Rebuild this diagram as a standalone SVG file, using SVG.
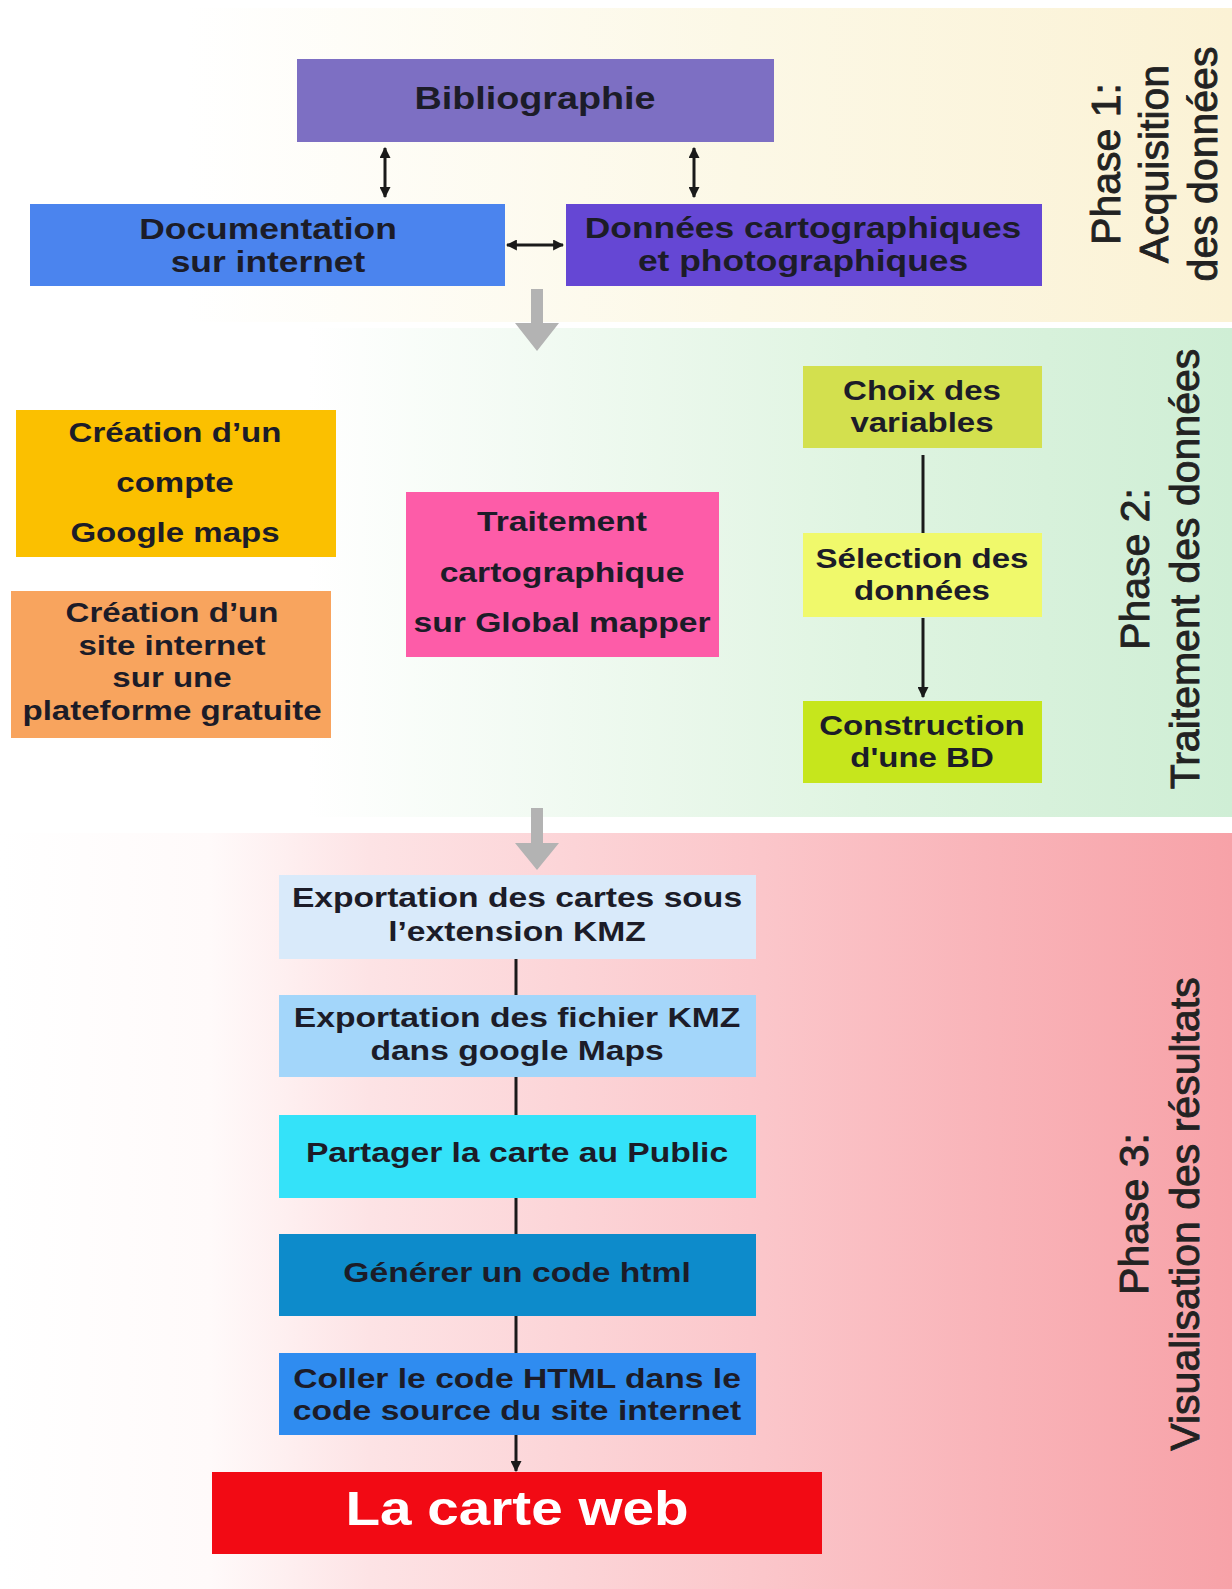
<svg xmlns="http://www.w3.org/2000/svg" width="1232" height="1589" viewBox="0 0 1232 1589">
<defs>
<linearGradient id="g1" x1="0" y1="0" x2="1" y2="0">
<stop offset="0" stop-color="#ffffff"/><stop offset="0.15" stop-color="#ffffff"/><stop offset="0.6" stop-color="#fcf8e6"/><stop offset="1" stop-color="#fbf2d5"/>
</linearGradient>
<linearGradient id="g2" x1="0" y1="0" x2="1" y2="0">
<stop offset="0" stop-color="#ffffff"/><stop offset="0.25" stop-color="#ffffff"/><stop offset="0.7" stop-color="#dff4e1"/><stop offset="1" stop-color="#cfeed5"/>
</linearGradient>
<linearGradient id="g3" x1="0" y1="0" x2="1" y2="0">
<stop offset="0" stop-color="#ffffff"/><stop offset="0.17" stop-color="#fffafa"/><stop offset="0.3" stop-color="#fde3e5"/><stop offset="0.62" stop-color="#fbc6ca"/><stop offset="0.8" stop-color="#f9b4b9"/><stop offset="1" stop-color="#f7a2a8"/>
</linearGradient>
<marker id="ah" viewBox="0 0 10 10" refX="9" refY="5" markerWidth="11" markerHeight="11" markerUnits="userSpaceOnUse" orient="auto-start-reverse">
<path d="M0,0 L10,5 L0,10 z" fill="#1a1a1a"/>
</marker>
<style>
.t{font-family:"Liberation Sans",Arial,sans-serif;font-weight:bold;font-size:28.5px;fill:#1c1c28;text-anchor:middle}
.ph{font-family:"Liberation Sans",Arial,sans-serif;font-size:41px;fill:#222;stroke:#222;stroke-width:0.9;text-anchor:middle}
.c{stroke:#1a1a1a;stroke-width:3;fill:none}
.gray{fill:#b3b3b3}
</style>
</defs>
<rect width="1232" height="1589" fill="#ffffff"/>
<g id="phase1-band"><rect x="0" y="8" width="1232" height="314" fill="url(#g1)"/></g>
<g id="phase2-band"><rect x="0" y="328" width="1232" height="489" fill="url(#g2)"/></g>
<g id="phase3-band"><rect x="0" y="833" width="1232" height="756" fill="url(#g3)"/></g>

<g id="phase1-label"><text class="ph" transform="translate(1120,164) rotate(-90)">Phase 1:</text><text class="ph" transform="translate(1168,164) rotate(-90)">Acquisition</text><text class="ph" transform="translate(1217,164) rotate(-90)">des données</text></g>
<g id="phase2-label"><text class="ph" transform="translate(1149,569) rotate(-90)">Phase 2:</text><text class="ph" transform="translate(1199,569) rotate(-90)">Traitement des données</text></g>
<g id="phase3-label"><text class="ph" transform="translate(1148,1214) rotate(-90)">Phase 3:</text><text class="ph" transform="translate(1199,1214) rotate(-90)">Visualisation des résultats</text></g>

<g id="connectors">
<line class="c" x1="385" y1="148" x2="385" y2="197" marker-start="url(#ah)" marker-end="url(#ah)"/>
<line class="c" x1="694" y1="148" x2="694" y2="197" marker-start="url(#ah)" marker-end="url(#ah)"/>
<line class="c" x1="507" y1="245" x2="563" y2="245" marker-start="url(#ah)" marker-end="url(#ah)"/>
<polygon class="gray" points="531,289 543,289 543,323 559,323 537,351 515,323 531,323"/>
<line class="c" x1="923" y1="455" x2="923" y2="533"/>
<line class="c" x1="923" y1="618" x2="923" y2="697" marker-end="url(#ah)"/>
<polygon class="gray" points="531,808 543,808 543,843 559,843 537,870 515,843 531,843"/>
<line class="c" x1="516" y1="959" x2="516" y2="995"/>
<line class="c" x1="516" y1="1077" x2="516" y2="1115"/>
<line class="c" x1="516" y1="1198" x2="516" y2="1234"/>
<line class="c" x1="516" y1="1316" x2="516" y2="1353"/>
<line class="c" x1="516" y1="1435" x2="516" y2="1471" marker-end="url(#ah)"/>
</g>

<g id="bibliographie"><rect x="297" y="59" width="477" height="83" fill="#7d6fc3"/><g transform="translate(535,0) scale(1.18,1)"><text class="t" style="font-size:32px" x="0" y="109">Bibliographie</text></g></g>
<g id="documentation"><rect x="30" y="204" width="475" height="82" fill="#4b84ee"/><g transform="translate(268,0) scale(1.18,1)"><text class="t" style="font-size:30px" x="0" y="239">Documentation</text><text class="t" style="font-size:30px" x="0" y="272">sur internet</text></g></g>
<g id="donnees"><rect x="566" y="204" width="476" height="82" fill="#6547d4"/><g transform="translate(803,0) scale(1.18,1)"><text class="t" style="font-size:30px" x="0" y="238">Données cartographiques</text><text class="t" style="font-size:30px" x="0" y="271">et photographiques</text></g></g>

<g id="compte"><rect x="16" y="410" width="320" height="147" fill="#fbc000"/><g transform="translate(175,0) scale(1.18,1)"><text class="t" style="font-size:28px" x="0" y="442">Création d’un</text><text class="t" style="font-size:28px" x="0" y="492">compte</text><text class="t" style="font-size:28px" x="0" y="542">Google maps</text></g></g>
<g id="site"><rect x="11" y="591" width="320" height="147" fill="#f8a45e"/><g transform="translate(172,0) scale(1.18,1)"><text class="t" style="font-size:28px" x="0" y="622">Création d’un</text><text class="t" style="font-size:28px" x="0" y="655">site internet</text><text class="t" style="font-size:28px" x="0" y="687">sur une</text><text class="t" style="font-size:28px" x="0" y="720">plateforme gratuite</text></g></g>
<g id="traitement"><rect x="406" y="492" width="313" height="165" fill="#fd5ca8"/><g transform="translate(562,0) scale(1.18,1)"><text class="t" x="0" y="531">Traitement</text><text class="t" x="0" y="582">cartographique</text><text class="t" x="0" y="632">sur Global mapper</text></g></g>
<g id="choix"><rect x="803" y="366" width="239" height="82" fill="#d3e04e"/><g transform="translate(922,0) scale(1.18,1)"><text class="t" style="font-size:28px" x="0" y="400">Choix des</text><text class="t" style="font-size:28px" x="0" y="432">variables</text></g></g>
<g id="selection"><rect x="803" y="533" width="239" height="84" fill="#f0f96b"/><g transform="translate(922,0) scale(1.18,1)"><text class="t" style="font-size:28px" x="0" y="568">Sélection des</text><text class="t" style="font-size:28px" x="0" y="600">données</text></g></g>
<g id="construction"><rect x="803" y="701" width="239" height="82" fill="#c6e61c"/><g transform="translate(922,0) scale(1.18,1)"><text class="t" style="font-size:28px" x="0" y="735">Construction</text><text class="t" style="font-size:28px" x="0" y="767">d'une BD</text></g></g>

<g id="export-cartes"><rect x="279" y="875" width="477" height="84" fill="#d9eafa"/><g transform="translate(517,0) scale(1.18,1)"><text class="t" x="0" y="907">Exportation des cartes sous</text><text class="t" x="0" y="941">l’extension KMZ</text></g></g>
<g id="export-fichier"><rect x="279" y="995" width="477" height="82" fill="#a3d6fa"/><g transform="translate(517,0) scale(1.18,1)"><text class="t" x="0" y="1027">Exportation des fichier KMZ</text><text class="t" x="0" y="1060">dans google Maps</text></g></g>
<g id="partager"><rect x="279" y="1115" width="477" height="83" fill="#34e2f9"/><g transform="translate(517,0) scale(1.18,1)"><text class="t" x="0" y="1162">Partager la carte au Public</text></g></g>
<g id="generer"><rect x="279" y="1234" width="477" height="82" fill="#0d8bcb"/><g transform="translate(517,0) scale(1.18,1)"><text class="t" x="0" y="1282">Générer un code html</text></g></g>
<g id="coller"><rect x="279" y="1353" width="477" height="82" fill="#2f8cf0"/><g transform="translate(517,0) scale(1.18,1)"><text class="t" x="0" y="1388">Coller le code HTML dans le</text><text class="t" x="0" y="1420">code source du site internet</text></g></g>
<g id="carte-web"><rect x="212" y="1472" width="610" height="82" fill="#f20a14"/><g transform="translate(517,0) scale(1.18,1)"><text class="t" style="font-size:48px;fill:#ffffff" x="0" y="1525">La carte web</text></g></g>
</svg>
